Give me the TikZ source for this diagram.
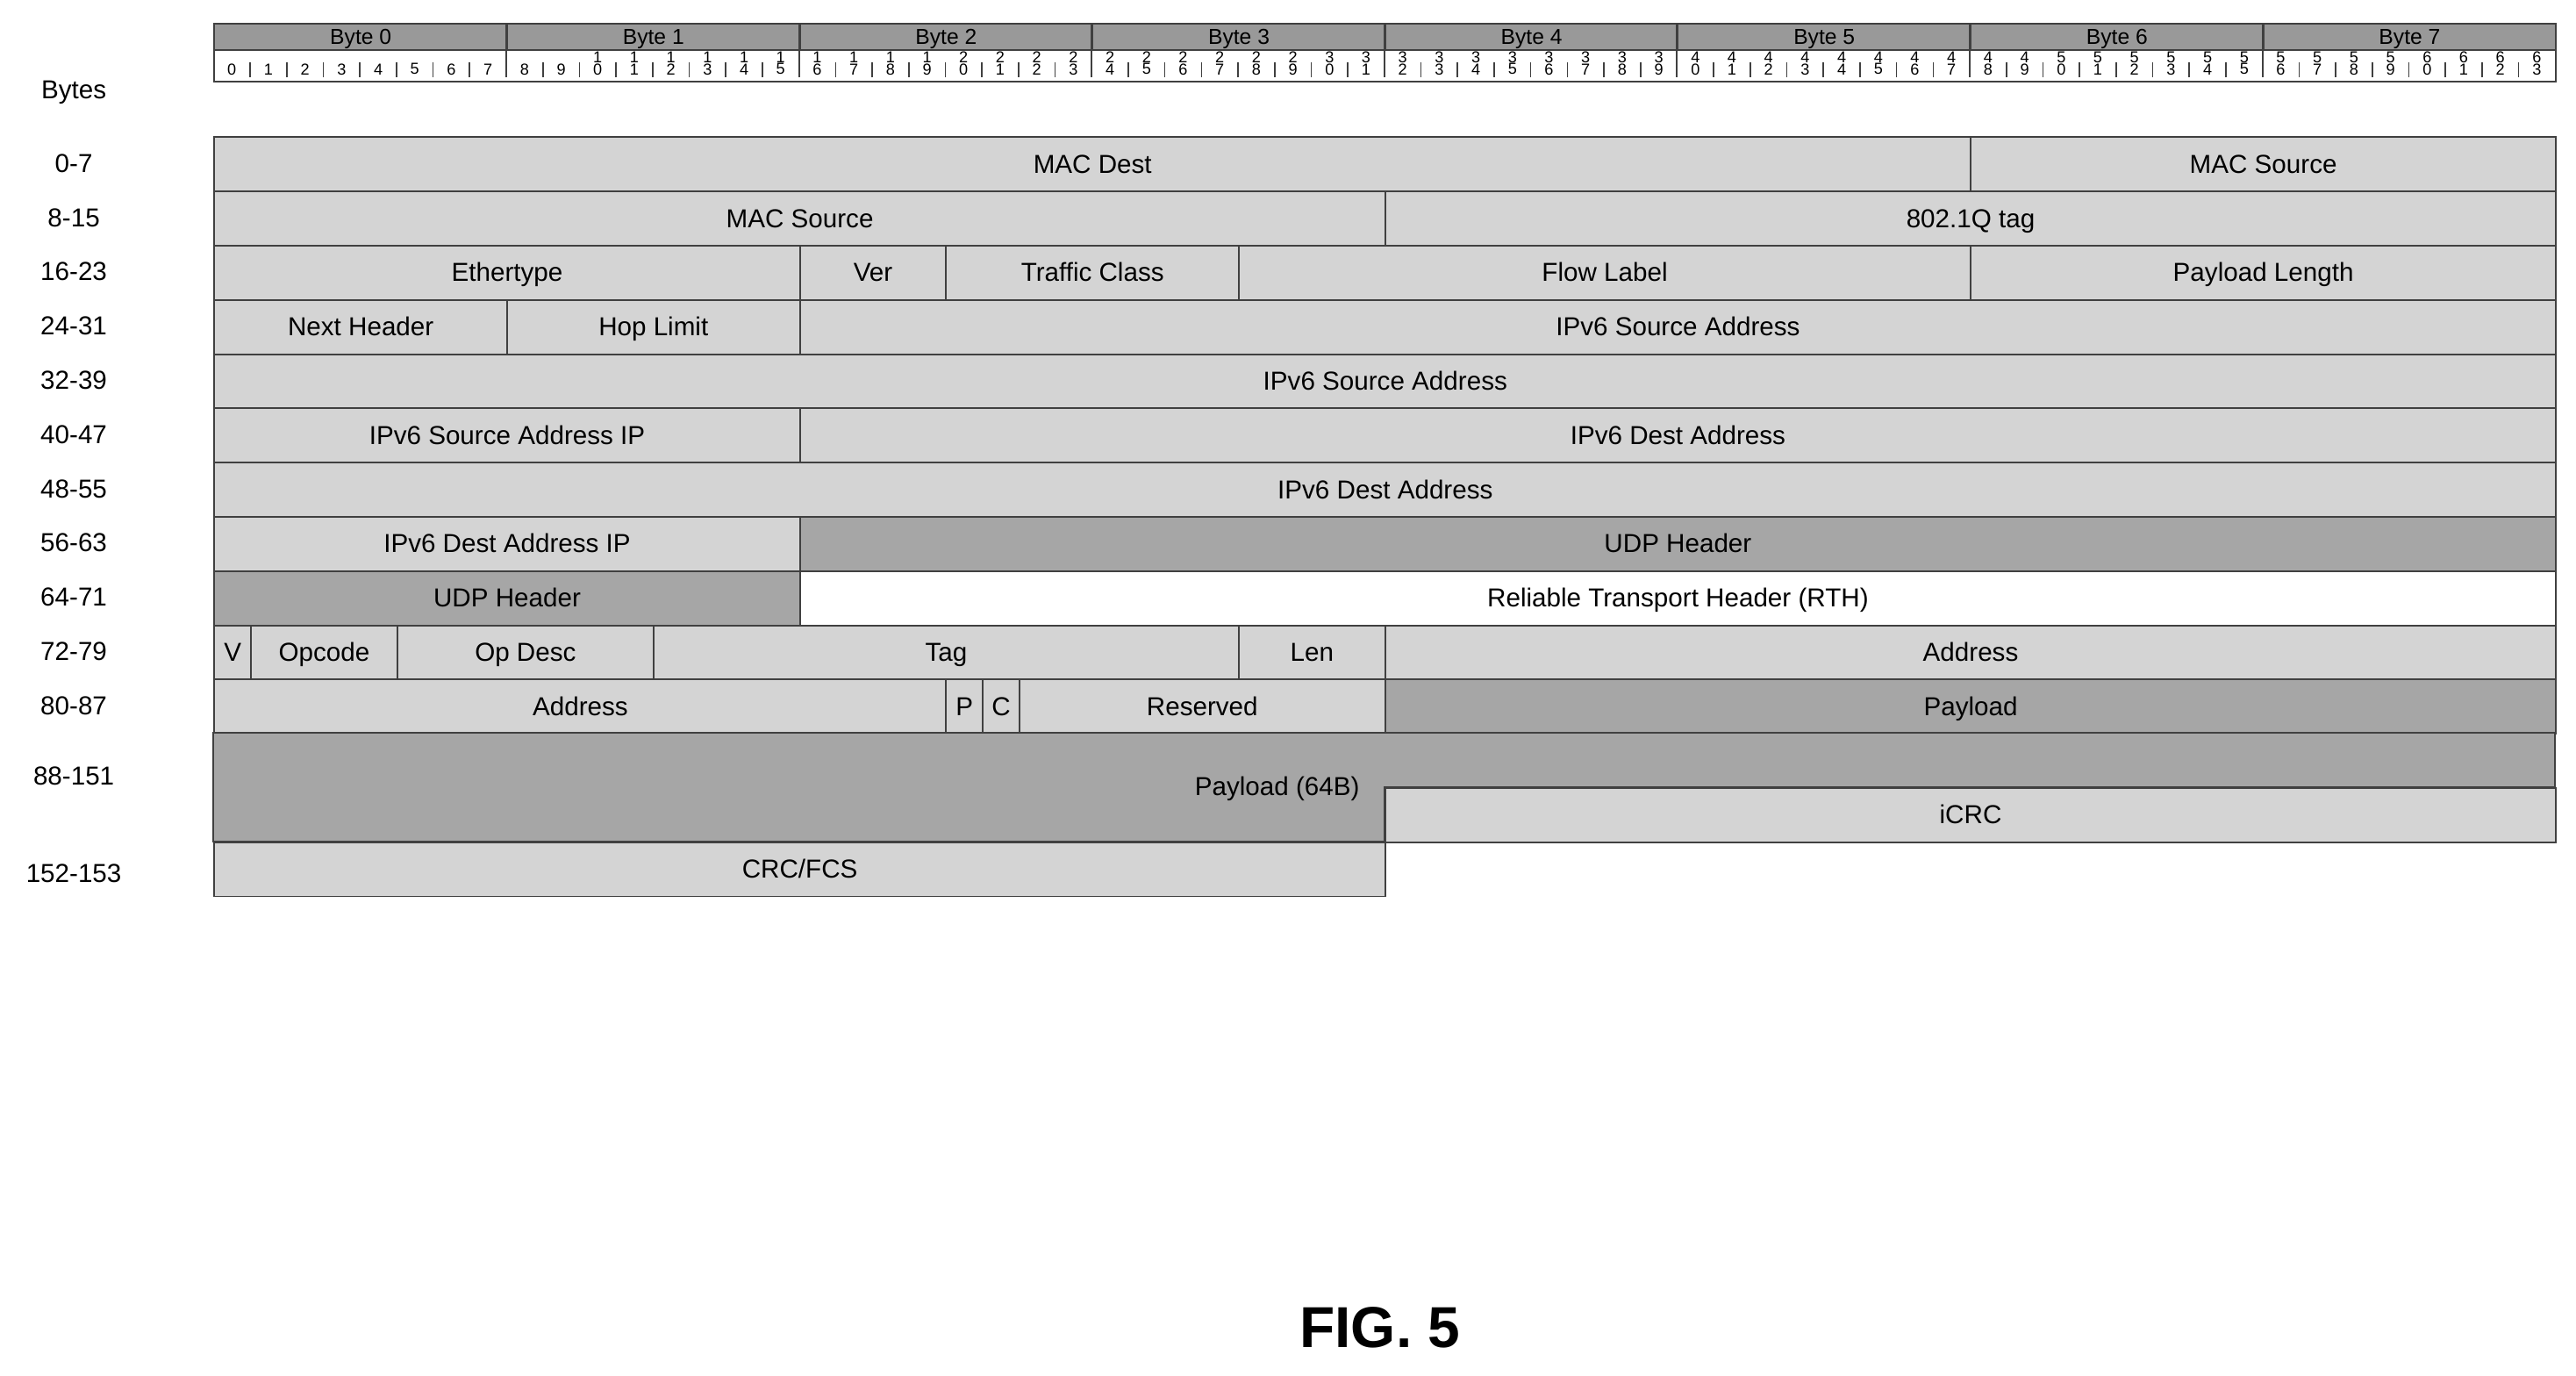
\documentclass[tikz,border=0pt]{standalone}
\usepackage{fontspec}
\setmainfont{Liberation Sans}
\newcommand{\fld}[6][lite]{\node[fld, #1, minimum width={(#4-#3)*0.4454cm}, anchor=north west] (#2) at (#3,#5) {#6};}
\begin{document}
\begin{tikzpicture}[
    x=0.4454cm, y=-0.66cm,
    fld/.style={rectangle, draw=black!75, line width=0.6pt, inner sep=0pt, minimum height=0.66cm, text height=1.6ex, text depth=0.45ex, font=\fontsize{9}{10}\selectfont},
    lite/.style={fill=black!17},
    dark/.style={fill=black!35},
    blank/.style={fill=white},
    lbl/.style={font=\fontsize{9}{10}\selectfont, text height=1.6ex, text depth=0.45ex},
    bitno/.style={font=\fontsize{5.5}{6}\selectfont, inner sep=0pt}
]
\useasboundingbox (-5.837,-2.515) rectangle (64.57,22.85);

% Header: bytes and bits
\foreach \i in {0,...,7}{
  \node[fld, fill=black!40, minimum height=0.32cm, minimum width=8*0.4454cm, anchor=north west, text height=1.2ex, text depth=0.2ex, font=\fontsize{7.5}{8}\selectfont] (byte\i) at (8*\i,-2.09) {Byte \i};
}
\node[fld, blank, minimum height=0.34cm, minimum width=64*0.4454cm, anchor=north west] (bits) at (0,-1.606) {};
\foreach \n in {0,...,63}{
  \pgfmathtruncatemacro\tens{int(\n/10)}
  \pgfmathtruncatemacro\units{mod(\n,10)}
  \node[bitno] (u\n) at (\n+0.5,-1.24) {\units};
  \ifnum\tens>0 \node[bitno] (t\n) at (\n+0.5,-1.46) {\tens};\fi
  \ifnum\n>0 \draw[black!75, line width=0.5pt] (\n,-1.09) -- (\n,-1.36); \fi
}
\foreach \i in {1,...,7}{
  \draw[black!75, line width=0.6pt] (byte\i.north west) -- (8*\i,-1.09);
}

% Row labels
\node[lbl] (hdr) at (-3.82,-0.85) {Bytes};
\foreach \r/\t in {0/0-7, 1/8-15, 2/16-23, 3/24-31, 4/32-39, 5/40-47, 6/48-55, 7/56-63, 8/64-71, 9/72-79, 10/80-87}{
  \node[lbl] (row\r) at (-3.82,\r+0.5) {\t};
}
\node[lbl] (row11) at (-3.82,11.8) {88-151};
\node[lbl] (row13) at (-3.82,13.6) {152-153};

% Ethernet / IPv6 / UDP
\fld{macdest}{0}{48}{0}{MAC Dest}
\fld{macsrca}{48}{64}{0}{MAC Source}
\fld{macsrcb}{0}{32}{1}{MAC Source}
\fld{vlan}{32}{64}{1}{802.1Q tag}
\fld{ethtype}{0}{16}{2}{Ethertype}
\fld{ver}{16}{20}{2}{Ver}
\fld{tclass}{20}{28}{2}{Traffic Class}
\fld{flow}{28}{48}{2}{Flow Label}
\fld{plen}{48}{64}{2}{Payload Length}
\fld{nexthdr}{0}{8}{3}{Next Header}
\fld{hoplim}{8}{16}{3}{Hop Limit}
\fld{srca}{16}{64}{3}{IPv6 Source Address}
\fld{srcb}{0}{64}{4}{IPv6 Source Address}
\fld{srcc}{0}{16}{5}{IPv6 Source Address IP}
\fld{dsta}{16}{64}{5}{IPv6 Dest Address}
\fld{dstb}{0}{64}{6}{IPv6 Dest Address}
\fld{dstc}{0}{16}{7}{IPv6 Dest Address IP}
\fld[dark]{udpa}{16}{64}{7}{UDP Header}
\fld[dark]{udpb}{0}{16}{8}{UDP Header}
\fld[blank]{rth}{16}{64}{8}{Reliable Transport Header (RTH)}

% RTH fields
\fld{vbit}{0}{1}{9}{V}
\fld{opcode}{1}{5}{9}{Opcode}
\fld{opdesc}{5}{12}{9}{Op Desc}
\fld{tag}{12}{28}{9}{Tag}
\fld{len}{28}{32}{9}{Len}
\fld{addra}{32}{64}{9}{Address}
\fld{addrb}{0}{20}{10}{Address}
\fld{pbit}{20}{21}{10}{P}
\fld{cbit}{21}{22}{10}{C}
\fld{resvd}{22}{32}{10}{Reserved}
\fld[dark]{paya}{32}{64}{10}{Payload}

% Payload and trailer
\filldraw[fill=black!35, draw=black!75, line width=0.6pt] (0,11) -- (64,11) -- (64,12) -- (32,12) -- (32,13) -- (0,13) -- cycle;
\node[lbl, anchor=east] (payb) at (31.6,12) {Payload (64B)};
\fld{icrc}{32}{64}{12}{iCRC}
\fld{crc}{0}{32}{13}{CRC/FCS}

\node[font=\bfseries\fontsize{20}{22}\selectfont] (fig) at (31.88,21.97) {FIG. 5};
\end{tikzpicture}
\end{document}
